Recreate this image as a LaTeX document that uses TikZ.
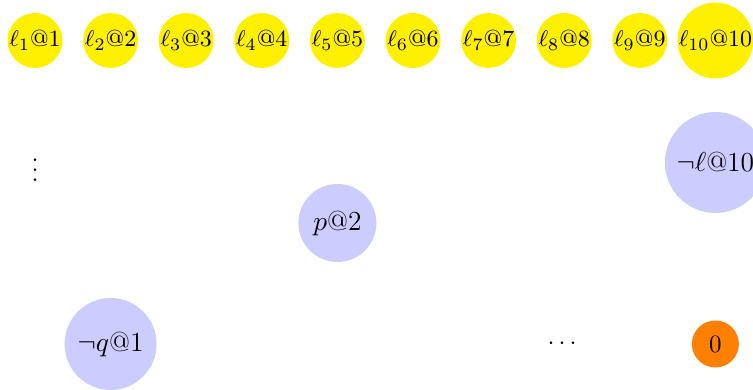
\documentclass[tikz,border=0pt]{standalone}
\usepackage{amsmath}
\usepackage{amssymb}
\usepackage{tikz}
\usetikzlibrary{positioning}

\definecolor{litcol}{RGB}{255,240,0}

\begin{document}
\begin{tikzpicture}[
  x=0.4pt, y=-0.4pt,
  lit/.style={circle, fill=litcol, inner sep=0pt, minimum size=20.8pt, font=\fontsize{9.3}{11}\selectfont},
  neg/.style={circle, fill=blue!20, inner sep=0pt, font=\fontsize{11}{13}\selectfont},
  falsum/.style={circle, fill=orange, inner sep=0pt, minimum size=18.8pt},
  gap/.style={inner sep=0pt}
]
\clip (0,0) rectangle (753,390);

% --- top row: literals ---
\node[lit] (l1) at (35, 40.5) {$\ell_1$@1};
\node[lit] (l2) at (110.6, 40.5) {$\ell_2$@2};
\node[lit] (l3) at (186.2, 40.5) {$\ell_3$@3};
\node[lit] (l4) at (261.8, 40.5) {$\ell_4$@4};
\node[lit] (l5) at (337.4, 40.5) {$\ell_5$@5};
\node[lit] (l6) at (413, 40.5) {$\ell_6$@6};
\node[lit] (l7) at (488.6, 40.5) {$\ell_7$@7};
\node[lit] (l8) at (564.2, 40.5) {$\ell_8$@8};
\node[lit] (l9) at (639.8, 40.5) {$\ell_9$@9};
\node[lit, minimum size=29.2pt] (l10) at (715.4, 40.5) {$\ell_{10}$@10};

% --- middle ---
\node[gap] (vdots) at (35, 162.5) {$\vdots$};
\node[neg, minimum size=40.4pt] (nl10) at (715.4, 162.5) {$\neg\ell$@10};
\node[neg, minimum size=31.2pt] (p2) at (337.4, 223) {$p$@2};

% --- bottom row ---
\node[neg, minimum size=36.8pt] (nq1) at (110.6, 344) {$\neg q$@1};
\node[gap] (cdots) at (564.2, 344) {$\cdots$};
\node[falsum] (zero) at (715.4, 344) {$0$};

\end{tikzpicture}
\end{document}
